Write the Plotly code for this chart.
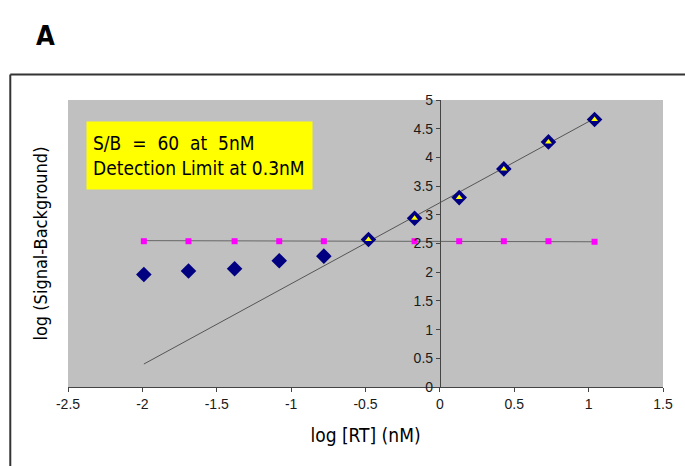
import plotly.graph_objects as go

# ---- data ----
log_rt = [-1.99, -1.69, -1.38, -1.08, -0.78, -0.48, -0.17, 0.13, 0.43, 0.73, 1.04]
log_signal = [1.96, 2.02, 2.06, 2.20, 2.28, 2.57, 2.94, 3.30, 3.80, 4.27, 4.66]
log_background = [2.54, 2.54, 2.54, 2.54, 2.54, 2.54, 2.54, 2.54, 2.54, 2.54, 2.53]
linear_x = [-0.48, -0.17, 0.13, 0.43, 0.73, 1.04]
linear_y = [2.57, 2.94, 3.30, 3.80, 4.27, 4.66]
fit_x = [-1.99, 1.04]
fit_y = [0.40, 4.68]
bg_fit_x = [-1.99, 1.04]
bg_fit_y = [2.55, 2.53]
x_ticks = [-2.5, -2, -1.5, -1, -0.5, 0, 0.5, 1, 1.5]
y_ticks = [0, 0.5, 1, 1.5, 2, 2.5, 3, 3.5, 4, 4.5, 5]

title_font = "Liberation Sans Narrow, DejaVu Sans Condensed, Arial Narrow, sans-serif"
tick_font = dict(family="Liberation Sans, Arial, sans-serif", size=14, color="#1a1a1a")

fig = go.Figure()
fig.add_trace(go.Scatter(x=fit_x, y=fit_y, mode="lines",
                         line=dict(color="#555555", width=1), hoverinfo="skip"))
fig.add_trace(go.Scatter(x=bg_fit_x, y=bg_fit_y, mode="lines",
                         line=dict(color="#666666", width=1), hoverinfo="skip"))
fig.add_trace(go.Scatter(x=log_rt, y=log_background, mode="markers",
                         marker=dict(symbol="square", size=6, color="#FF00FF",
                                     line=dict(width=0))))
fig.add_trace(go.Scatter(x=log_rt, y=log_signal, mode="markers",
                         marker=dict(symbol="diamond", size=12, color="#000080",
                                     line=dict(width=0))))
fig.add_trace(go.Scatter(x=linear_x, y=linear_y, mode="markers",
                         marker=dict(symbol="triangle-up", size=6, color="#FFFF00",
                                     line=dict(width=0))))

fig.update_layout(
    width=685, height=466,
    margin=dict(l=68, r=19, t=100, b=79),
    paper_bgcolor="white",
    plot_bgcolor="#C0C0C0",
    showlegend=False,
    font=dict(family="Liberation Sans, Arial, sans-serif", size=14, color="#1a1a1a"),
    xaxis=dict(range=[-2.5, 1.5], tickvals=x_ticks, ticktext=[f"{v:g}" for v in x_ticks],
               tickfont=tick_font,
               showgrid=False, zeroline=False, showline=True, linecolor="#444444",
               linewidth=1, ticks="outside", ticklen=4, tickcolor="#444444",
               title=dict(text="log [RT] (nM)", font=dict(family=title_font, size=19, color="#000000"),
                          standoff=17)),
    yaxis=dict(range=[0, 5], tickvals=y_ticks, ticktext=[f"{v:g}" for v in y_ticks],
               tickfont=tick_font,
               showgrid=False, zeroline=False, showline=True, linecolor="#444444",
               linewidth=1, ticks="outside", ticklen=4, tickcolor="#444444",
               anchor="free", position=0.625),
)

# y-axis title placed to the left of the plot area
fig.add_annotation(text="log (Signal-Background)", xref="paper", yref="paper",
                   x=-0.047, y=0.5, showarrow=False, textangle=-90,
                   xanchor="center", yanchor="middle",
                   font=dict(family=title_font, size=18, color="#000000"))

# yellow text box
fig.add_annotation(text="S/B  =  60  at  5nM<br>Detection Limit at 0.3nM",
                   xref="paper", yref="paper", x=0.03, y=0.926,
                   xanchor="left", yanchor="top", align="left", showarrow=False,
                   bgcolor="#FFFF00", borderpad=6, width=213, height=55,
                   font=dict(family=title_font, size=19, color="#000000"))

# panel letter
fig.add_annotation(text="<b>A</b>", xref="paper", yref="paper",
                   x=-0.038, y=1.226, showarrow=False, xanchor="center", yanchor="middle",
                   font=dict(family=title_font, size=27, color="#000000"))

# outer frame (left and top edges)
fig.add_shape(type="line", xref="paper", yref="paper", x0=-0.097, x1=-0.097,
              y0=1.089, y1=-0.30, line=dict(color="#333333", width=2))
fig.add_shape(type="line", xref="paper", yref="paper", x0=-0.097, x1=1.05,
              y0=1.089, y1=1.089, line=dict(color="#333333", width=2))

fig.write_html("out.html")
